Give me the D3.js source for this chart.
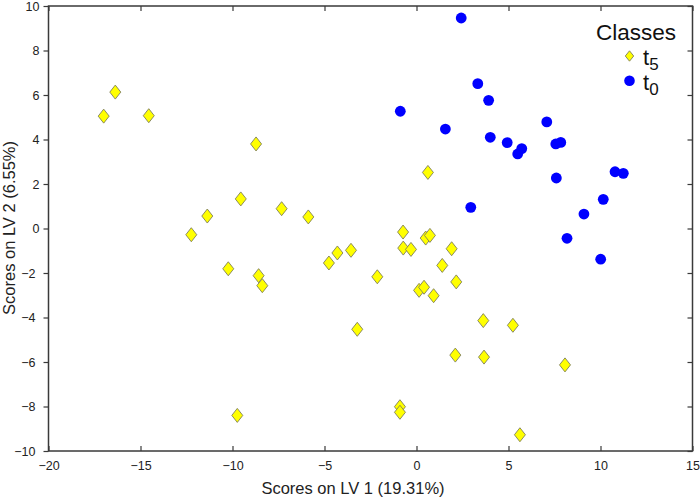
<!DOCTYPE html>
<html>
<head>
<meta charset="utf-8">
<script src="https://cdn.jsdelivr.net/npm/d3@7"></script>
<style>
  body { margin: 0; background: #fff; }
  svg { font-family: "Liberation Sans", Arial, sans-serif; }
</style>
</head>
<body>
<svg width="700" height="501"></svg>
<script>
// t5 scores (LV1, LV2)
const t5X = [-17.0, -16.37, -14.55, -8.72, -9.55, -11.37, -12.24, -7.33, -5.88,
  -10.23, -8.58, -8.38, -9.74,
  0.62, -0.73, 0.50, 0.73, -0.72, -0.30, 1.91, -4.30, -3.56, -4.76, 1.40, -2.13, 2.16, 0.14, 0.41, 0.93,
  -3.22, 3.63, 2.11, 3.67, -0.90, -0.90,
  5.24, 8.07, 5.62];
const t5Y = [5.05, 6.13, 5.07, 3.80, 1.33, 0.56, -0.28, 0.89, 0.52,
  -1.81, -2.12, -2.57, -8.40,
  2.52, -0.16, -0.43, -0.31, -0.88, -0.94, -0.91, -1.10, -0.98, -1.55, -1.66, -2.17, -2.40, -2.78, -2.64, -3.02,
  -4.53, -4.14, -5.69, -5.78, -8.01, -8.26,
  -4.35, -6.13, -9.27];

// t0 scores (LV1, LV2)
const t0X = [2.43, 3.33, 3.92, -0.88, 1.57, 4.01, 4.93, 5.72, 5.50, 7.08,
  7.57, 7.84, 7.60, 10.79, 11.24, 10.15, 9.10, 2.95, 8.18, 10.01];
const t0Y = [9.46, 6.51, 5.76, 5.27, 4.47, 4.10, 3.86, 3.59, 3.35, 4.79,
  3.80, 3.87, 2.27, 2.55, 2.48, 1.31, 0.65, 0.95, -0.44, -1.38];

const xTicks = [-20, -15, -10, -5, 0, 5, 10, 15];
const yTicks = [-10, -8, -6, -4, -2, 0, 2, 4, 6, 8, 10];

const svg = d3.select("svg");
const plotL = 48.5, plotR = 692.5, plotT = 6, plotB = 451;

const x = d3.scaleLinear().domain([-20, 15]).range([plotL, plotR]);
const y = d3.scaleLinear().domain([-10, 10]).range([plotB, plotT]);

const axisColor = "#3a3a3a";

// frame
svg.append("rect")
  .attr("x", plotL).attr("y", plotT)
  .attr("width", plotR - plotL).attr("height", plotB - plotT)
  .attr("fill", "none").attr("stroke", axisColor).attr("stroke-width", 1.5);

// axes: bottom/top/right ticks point inward, left ticks point outward
const gx = svg.append("g").attr("transform", `translate(0,${plotB})`)
  .call(d3.axisBottom(x).tickValues(xTicks).tickSizeInner(-5).tickSizeOuter(0).tickPadding(10));
const gxTop = svg.append("g").attr("transform", `translate(0,${plotT})`)
  .call(d3.axisTop(x).tickValues(xTicks).tickSizeInner(-5).tickSizeOuter(0).tickFormat(""));
const gy = svg.append("g").attr("transform", `translate(${plotL},0)`)
  .call(d3.axisLeft(y).tickValues(yTicks).tickSizeInner(5).tickSizeOuter(0).tickPadding(4));
const gyRight = svg.append("g").attr("transform", `translate(${plotR},0)`)
  .call(d3.axisRight(y).tickValues(yTicks).tickSizeInner(-5).tickSizeOuter(0).tickFormat(""));

[gx, gxTop, gy, gyRight].forEach(g => {
  g.select(".domain").remove();
  g.selectAll(".tick line").attr("stroke", axisColor).attr("stroke-width", 1.2);
  g.selectAll(".tick text").attr("fill", "#222").style("font-size", "12.5px")
    .style("font-family", "'Liberation Sans', Arial, sans-serif");
});
gy.selectAll(".tick text").attr("dx", d => d < 0 ? -4 : 0);

// axis titles
svg.append("text")
  .attr("x", 353).attr("y", 494)
  .attr("text-anchor", "middle")
  .style("font-size", "16.5px").attr("fill", "#222")
  .text("Scores on LV 1 (19.31%)");

svg.append("text")
  .attr("transform", "translate(15,228) rotate(-90)")
  .attr("text-anchor", "middle")
  .style("font-size", "16.5px").attr("fill", "#222")
  .text("Scores on LV 2 (6.55%)");

// points
const diamond = (cx, cy, w, h) => `M${cx},${cy - h}L${cx + w},${cy}L${cx},${cy + h}L${cx - w},${cy}Z`;

svg.append("g").selectAll("path")
  .data(d3.range(t5X.length))
  .enter().append("path")
  .attr("d", i => diamond(x(t5X[i]), y(t5Y[i]), 5.5, 7))
  .attr("fill", "#ffff00")
  .attr("stroke", "#7f7f5a")
  .attr("stroke-width", 0.9);

svg.append("g").selectAll("circle")
  .data(d3.range(t0X.length))
  .enter().append("circle")
  .attr("cx", i => x(t0X[i]))
  .attr("cy", i => y(t0Y[i]))
  .attr("r", 5.4)
  .attr("fill", "#0000ff");

// legend
const legend = svg.append("g");
legend.append("text").attr("x", 596).attr("y", 39.5)
  .style("font-size", "22.5px").attr("fill", "#111").text("Classes");
legend.append("path").attr("d", diamond(629.5, 56, 4.2, 5.2))
  .attr("fill", "#ffff00").attr("stroke", "#7f7f5a").attr("stroke-width", 0.9);
legend.append("circle").attr("cx", 629.5).attr("cy", 80.7).attr("r", 5.3).attr("fill", "#0000ff");

const t5Label = legend.append("text").attr("x", 643).attr("y", 65)
  .style("font-size", "22px").attr("fill", "#111");
t5Label.append("tspan").text("t");
t5Label.append("tspan").attr("dy", 5).style("font-size", "17px").text("5");

const t0Label = legend.append("text").attr("x", 643).attr("y", 90)
  .style("font-size", "22px").attr("fill", "#111");
t0Label.append("tspan").text("t");
t0Label.append("tspan").attr("dy", 5).style("font-size", "17px").text("0");
</script>
</body>
</html>
